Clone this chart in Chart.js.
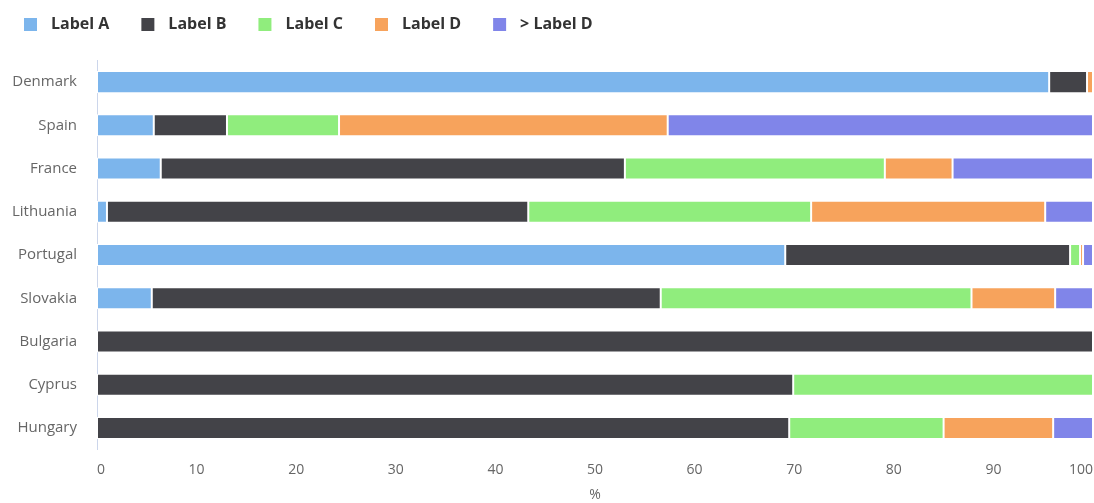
<!DOCTYPE html>
<html>
<head>
<meta charset="utf-8">
<script src="https://cdn.jsdelivr.net/npm/chart.js@4/dist/chart.umd.min.js"></script>
<style>
    html, body { margin: 0; padding: 0; background: #fff; }
    #wrap { width: 1094px; height: 503px; position: relative; }
</style>
</head>
<body>
<div id="wrap"><canvas id="chart"></canvas></div>
<script>
const categories = ['Denmark', 'Spain', 'France', 'Lithuania', 'Portugal', 'Slovakia', 'Bulgaria', 'Cyprus', 'Hungary'];
const seriesNames = ['Label A', 'Label B', 'Label C', 'Label D', '> Label D'];
const labelA = [95.6, 5.7, 6.4, 1.0, 69.1, 5.5, 0, 0, 0];
const labelB = [3.8, 7.35, 46.6, 42.3, 28.6, 51.1, 100, 69.9, 69.5];
const labelC = [0, 11.25, 26.1, 28.4, 1.0, 31.2, 0, 30.1, 15.5];
const labelD = [0.6, 33.0, 6.8, 23.5, 0.3, 8.4, 0, 0, 11.0];
const labelE = [0, 42.7, 14.1, 4.8, 1.0, 3.8, 0, 0, 4.0];
const xTicks = [0, 10, 20, 30, 40, 50, 60, 70, 80, 90, 100];

const colors = ['#7cb5ec', '#434348', '#90ed7d', '#f7a35c', '#8085e9'];
const seriesData = [labelA, labelB, labelC, labelD, labelE];

// legend swatch: transparent lead-in, 13px square, small gap after
const LEAD = 22, SQ = 13, GAP = 6;
const PAD_LEFT = -8;
function swatch(color) {
    const c = document.createElement('canvas');
    c.width = LEAD + SQ + GAP;
    c.height = SQ;
    const g = c.getContext('2d');
    g.fillStyle = color;
    g.fillRect(LEAD, 0, SQ, SQ);
    return c;
}
const swatches = colors.map(swatch);

const legendHeight = {
    id: 'legendHeight',
    afterInit(chart) {
        const fit = chart.legend.fit;
        chart.legend.fit = function () {
            fit.call(this);
            this.height = 54;
        };
    }
};

new Chart(document.getElementById('chart'), {
    type: 'bar',
    data: {
        labels: categories,
        datasets: seriesData.map((d, i) => ({
            label: seriesNames[i],
            data: d,
            backgroundColor: colors[i],
            borderColor: '#ffffff',
            borderWidth: 1,
            borderSkipped: false,
            categoryPercentage: 1,
            barPercentage: 0.51
        }))
    },
    options: {
        indexAxis: 'y',
        responsive: true,
        maintainAspectRatio: false,
        animation: false,
        layout: { padding: { top: 6.5, left: PAD_LEFT, right: 1, bottom: 0 } },
        plugins: {
            tooltip: { enabled: false },
            legend: {
                position: 'top',
                align: 'start',
                labels: {
                    usePointStyle: true,
                    pointStyleWidth: LEAD + SQ + GAP,
                    padding: 10,
                    color: '#333333',
                    font: { family: 'Open Sans', size: 16, weight: 'bold' },
                    generateLabels(chart) {
                        return Chart.defaults.plugins.legend.labels.generateLabels(chart).map((it, i) => {
                            it.pointStyle = swatches[i];
                            return it;
                        });
                    }
                }
            }
        },
        scales: {
            x: {
                stacked: true,
                min: 0,
                max: 100,
                afterBuildTicks: s => { s.ticks = xTicks.map(v => ({ value: v })); },
                afterFit: s => {
                    s.height = 53.4;
                    s.paddingLeft = 0;
                    s.paddingRight = 0;
                },
                grid: { display: false, drawTicks: false },
                border: { display: false },
                ticks: {
                    align: 'inner',
                    padding: 12,
                    color: '#666666',
                    font: { family: 'Open Sans', size: 14 }
                },
                title: {
                    display: true,
                    text: '%',
                    color: '#666666',
                    font: { family: 'Open Sans', size: 14 },
                    padding: { top: 4, bottom: 0 }
                }
            },
            y: {
                stacked: true,
                afterFit: s => { s.width = 97 - PAD_LEFT; },
                grid: { display: false, drawTicks: false },
                border: { display: true, color: '#ccd6eb', width: 1 },
                ticks: {
                    padding: 20,
                    color: '#666666',
                    font: { family: 'Open Sans', size: 15 }
                }
            }
        }
    },
    plugins: [legendHeight]
});
</script>
</body>
</html>
